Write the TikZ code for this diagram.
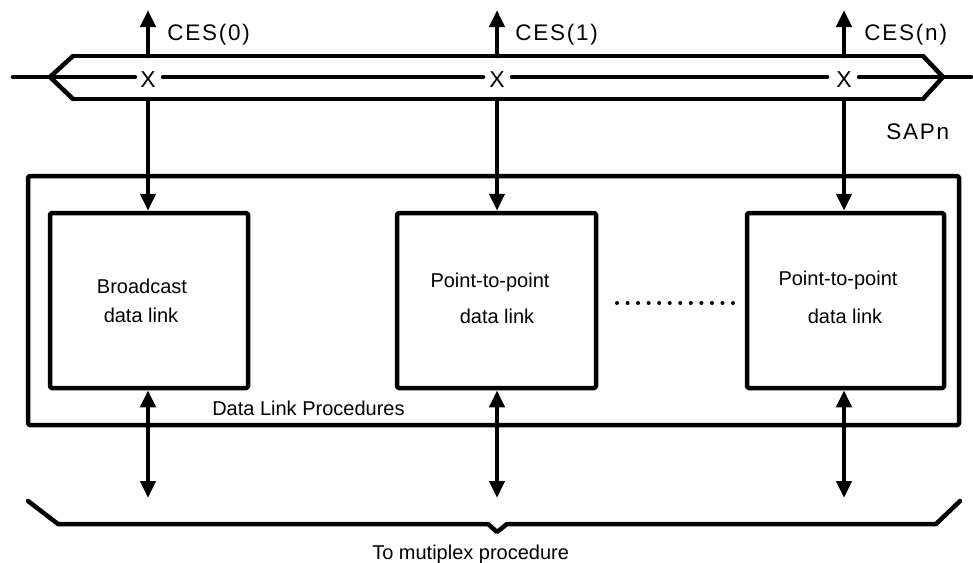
\documentclass[tikz,border=0pt]{standalone}
\usepackage{fontspec}
\setmainfont{Liberation Sans}
\newfontfamily\spacedfont[LetterSpace=8]{Liberation Sans}
\usetikzlibrary{arrows.meta}
\begin{document}
\begin{tikzpicture}[x=1pt,y=-1pt,
  line width=4.5pt, line cap=round, line join=round,
  uptip/.style={-{Triangle[length=17pt,width=15pt]}},
  bothtips/.style={{Triangle[length=17pt,width=15pt]}-{Triangle[length=17pt,width=15pt]}},
  linkbox/.style={draw, rounded corners=1.5pt, inner sep=0pt},
  boxtext/.style={font=\fontsize{20}{24}\selectfont, anchor=base, inner sep=0pt},
  cestext/.style={font=\spacedfont\fontsize{22.5}{26}\selectfont, anchor=base west, inner sep=0pt},
  xmark/.style={font=\fontsize{23}{27}\selectfont, anchor=base, inner sep=0pt}]
\useasboundingbox (0,0) rectangle (973,562);

% service access point bus
\draw (73,56) -- (50,77) -- (73,99);
\draw (73,56) -- (923,56);
\draw (73,99) -- (923,99);
\draw (923,56) -- (943,77) -- (923,99);
\draw (13,77) -- (135,77);
\draw (163,77) -- (483,77);
\draw (512,77) -- (827,77);
\draw (859,77) -- (971,77);

% connection end points on the bus
\foreach \n/\x in {0/148,1/497,2/844}{
  \coordinate (top\n) at (\x,56);
  \coordinate (bot\n) at (\x,99);
  \coordinate (tip\n) at (\x,10);
  \coordinate (low\n) at (\x,498);
  \node[xmark] (x\n) at (\x,87) {X};
}
\node[cestext] (ces0) at (165,40) {CES(0)};
\node[cestext] (ces1) at (513,40) {CES(1)};
\node[cestext] (cesn) at (862,40) {CES(n)};
\node[cestext] (sap) at (884,139) {SAPn};

% data link procedures
\node[linkbox, minimum width=931pt, minimum height=249pt] (dlp) at (493.5,300.5) {};
\node[boxtext, anchor=base west] (dlplabel) at (210,415) {Data Link Procedures};

\node[linkbox, minimum width=198pt, minimum height=175pt] (b0) at (149,300.5) {};
\node[linkbox, minimum width=199pt, minimum height=175pt] (b1) at (496.5,300.5) {};
\node[linkbox, minimum width=197pt, minimum height=175pt] (b2) at (845.5,300.5) {};

\node[boxtext] (b0a) at (142,293) {Broadcast};
\node[boxtext] (b0b) at (141,322) {data link};
\node[boxtext] (b1a) at (490,287) {Point-to-point};
\node[boxtext] (b1b) at (497,323) {data link};
\node[boxtext] (b2a) at (838,285) {Point-to-point};
\node[boxtext] (b2b) at (845,323) {data link};

% further point-to-point links
\coordinate (dotsL) at (617,303);
\coordinate (dotsR) at (733,303);
\draw[line width=4pt, dash pattern=on 0pt off 10.545pt] (dotsL) -- (dotsR);

% connectors
\foreach \n in {0,1,2}{
  \draw[uptip] (top\n) -- (tip\n);
  \draw[uptip] (bot\n) -- (bot\n |- b\n.north);
  \draw[bothtips] (bot\n |- b\n.south) -- (low\n);
}

% multiplex procedure brace
\coordinate (brL) at (28,501);
\coordinate (brR) at (960,501);
\draw (brL) -- (58,524) -- (488,524) -- (497,532) -- (507,524) -- (936,524) -- (brR);
\node[boxtext, anchor=base west] (mux) at (370,559) {To mutiplex procedure};
\end{tikzpicture}
\end{document}
